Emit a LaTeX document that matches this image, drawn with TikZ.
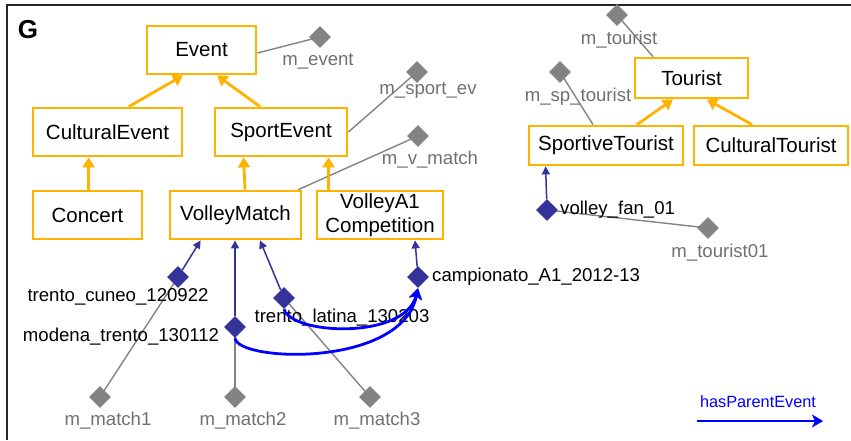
\documentclass[tikz,border=0pt]{standalone}
\usepackage{fontspec}
\setmainfont{Liberation Sans}
\usetikzlibrary{shapes.geometric,arrows.meta,backgrounds}
\definecolor{clsc}{HTML}{FFB300}
\definecolor{instc}{HTML}{333399}
\definecolor{mgray}{HTML}{838383}
\definecolor{mtext}{HTML}{707070}
\definecolor{hpe}{HTML}{0000FF}
\begin{document}
\begin{tikzpicture}[x=1pt,y=-1pt,
  clsbox/.style={draw=clsc, line width=2.8pt, inner sep=0pt, font=\fontsize{20.5}{24.5}\selectfont, align=center},
  isa/.style={draw=clsc, line width=2.8pt, -{Triangle[width=12pt,length=10pt]}},
  mdia/.style={diamond, fill=mgray, inner sep=0pt, minimum width=22pt, minimum height=22pt},
  idia/.style={diamond, fill=instc, inner sep=0pt, minimum width=22pt, minimum height=22pt},
  mlab/.style={text=mtext, font=\fontsize{18.6}{20}\selectfont, inner sep=0pt},
  ilab/.style={text=black, font=\fontsize{18.6}{20}\selectfont, inner sep=0pt},
  mline/.style={draw=mgray, line width=1.4pt},
  iarr/.style={draw=instc, line width=1.5pt, -{Triangle[width=8pt,length=8pt]}},
  hparr/.style={draw=hpe, line width=2.8pt, -{Stealth[width=13pt,length=11pt,inset=3pt]}}
]
\useasboundingbox (0,0) rectangle (851,440);
\draw[line width=1.5pt, draw=black!85] (7,440) -- (7,5) -- (851,5);
\node[font=\fontsize{26}{28}\selectfont\bfseries, inner sep=0pt] (g) at (28,30) {G};

% classes
\node[clsbox, minimum width=109pt, minimum height=48pt] (ev) at (201.5,50) {Event};
\node[clsbox, minimum width=149pt, minimum height=48pt] (ce) at (107.5,132) {CulturalEvent};
\node[clsbox, minimum width=132pt, minimum height=48pt] (se) at (281,132) {SportEvent};
\node[clsbox, minimum width=109pt, minimum height=48pt] (co) at (87.5,215) {Concert};
\node[clsbox, minimum width=131pt, minimum height=48pt] (vm) at (235.5,215) {VolleyMatch};
\node[clsbox, minimum width=126pt, minimum height=48pt] (va) at (380,215) {VolleyA1\\Competition};
\node[clsbox, minimum width=113pt, minimum height=40pt] (to) at (691.5,78) {Tourist};
\node[clsbox, minimum width=154pt, minimum height=39pt] (st) at (606,145.5) {SportiveTourist};
\node[clsbox, minimum width=154pt, minimum height=39pt] (ct) at (771,145.5) {CulturalTourist};

% subclass arrows
\draw[isa] ([xshift=-54.5pt]ce.north east) -- ([xshift=-18.5pt]ev.south);
\draw[isa] ([xshift=-21pt]se.north) -- ([xshift=15.5pt]ev.south);
\draw[isa] ([xshift=57pt]co.north west) -- ([xshift=57pt]ce.south west);
\draw[isa] ([xshift=9.5pt]vm.north) -- ([xshift=30pt]se.south west);
\draw[isa] ([xshift=13pt]va.north west) -- ([xshift=115pt]se.south west);
\draw[isa] ([xshift=31pt]st.north) -- ([xshift=-18.5pt]to.south);
\draw[isa] ([xshift=-19pt]ct.north) -- ([xshift=15.5pt]to.south);

% mapping diamonds
\node[mdia] (mev) at (320,37) {};
\node[mlab] (mevl) at (318,61) {m\_event};
\node[mdia] (msp) at (417,72) {};
\node[mlab] (mspl) at (428,90) {m\_sport\_ev};
\node[mdia] (mvm) at (418,136) {};
\node[mlab] (mvml) at (430,160) {m\_v\_match};
\node[mdia] (mto) at (617,15) {};
\node[mlab] (mtol) at (619,40) {m\_tourist};
\node[mdia] (mst) at (560,72) {};
\node[mlab] (mstl) at (578,97) {m\_sp\_tourist};
\node[mdia] (mt1) at (708,228) {};
\node[mlab] (mt1l) at (720,253) {m\_tourist01};
\node[mdia] (mm1) at (100,397) {};
\node[mlab] (mm1l) at (108,421) {m\_match1};
\node[mdia] (mm2) at (235,397) {};
\node[mlab] (mm2l) at (243,421) {m\_match2};
\node[mdia] (mm3) at (370,397) {};
\node[mlab] (mm3l) at (377,421) {m\_match3};

% instance diamonds
\node[idia] (tc) at (178,277) {};
\node[ilab] (tcl) at (118,297) {trento\_cuneo\_120922};
\node[idia] (mt) at (235,327) {};
\node[ilab] (mtl) at (121,337) {modena\_trento\_130112};
\node[idia] (tl) at (284,298) {};
\node[ilab] (tll) at (342,318) {trento\_latina\_130203};
\node[idia] (ca) at (418,277) {};
\node[ilab, anchor=west] (cal) at (432,277) {campionato\_A1\_2012-13};
\node[idia] (vf) at (547,210) {};
\node[ilab, anchor=west] (vfl) at (560,210) {volley\_fan\_01};

% legend
\coordinate (lg1) at (697,421);
\coordinate (lg2) at (823,421);
\node[text=hpe, font=\fontsize{16.3}{18}\selectfont, inner sep=0pt] (lgl) at (758,402) {hasParentEvent};
\draw[hparr] (lg1) -- (lg2);

\begin{scope}[on background layer]
\draw[mline] ([yshift=-3pt]ev.east) -- (mev.center);
\draw[mline] (se.east) -- (msp.center);
\draw[mline] ([xshift=-4pt]vm.north east) -- (mvm.center);
\draw[mline] ([xshift=-38.5pt]to.north) -- (mto.center);
\draw[mline] ([xshift=-13pt]st.north) -- (mst.center);
\draw[mline] (vf.center) -- (mt1.center);
\draw[mline] (tc.center) -- (mm1.center);
\draw[mline] (mt.center) -- (mm2.center);
\draw[mline] (tl.center) -- (mm3.center);
\end{scope}

% instance-of arrows
\draw[iarr] (tc) -- ([xshift=32pt]vm.south west);
\draw[iarr] (mt) -- ([xshift=-0.5pt]vm.south);
\draw[iarr] (tl) -- ([xshift=24.5pt]vm.south);
\draw[iarr] (ca) -- ([xshift=35pt]va.south);
\draw[iarr] (vf) -- ([xshift=18pt]st.south west);

% hasParentEvent curves
\draw[hparr] (tl.south) .. controls (292,335) and (405,340) .. (ca.south);
\draw[hparr] (mt.south) .. controls (238,362) and (402,368) .. (ca.south);
\end{tikzpicture}
\end{document}
